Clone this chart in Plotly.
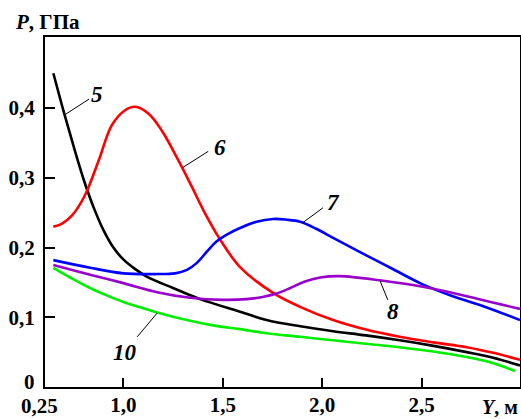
import plotly.graph_objects as go

# curve 5 (black)
x5 = [0.648, 0.70, 0.75, 0.80, 0.85, 0.90, 0.95, 1.0, 1.06, 1.12, 1.25, 1.386, 1.587, 1.72, 1.89, 2.055, 2.22, 2.39, 2.56, 2.727, 2.86, 2.995]
y5 = [0.450, 0.395, 0.345, 0.298, 0.258, 0.225, 0.200, 0.183, 0.169, 0.158, 0.142, 0.126, 0.108, 0.096, 0.087, 0.080, 0.074, 0.067, 0.059, 0.050, 0.042, 0.031]

# curve 6 (red)
x6 = [0.648, 0.69, 0.742, 0.807, 0.876, 0.943, 1.009, 1.059, 1.127, 1.193, 1.277, 1.345, 1.411, 1.479, 1.587, 1.753, 1.889, 2.055, 2.225, 2.39, 2.56, 2.727, 2.86, 2.995]
y6 = [0.230, 0.234, 0.246, 0.275, 0.325, 0.376, 0.397, 0.402, 0.392, 0.368, 0.325, 0.287, 0.249, 0.215, 0.172, 0.135, 0.115, 0.096, 0.082, 0.072, 0.064, 0.057, 0.049, 0.039]

# curve 7 (blue)
x7 = [0.648, 0.833, 1.0, 1.17, 1.26, 1.32, 1.37, 1.42, 1.47, 1.53, 1.587, 1.67, 1.753, 1.82, 1.889, 1.97, 2.055, 2.2, 2.35, 2.5, 2.65, 2.8, 2.995]
y7 = [0.182, 0.171, 0.163, 0.162, 0.163, 0.168, 0.178, 0.194, 0.209, 0.220, 0.228, 0.237, 0.241, 0.240, 0.237, 0.227, 0.214, 0.192, 0.170, 0.148, 0.131, 0.117, 0.096]

# curve 8 (purple)
x8 = [0.648, 0.833, 1.0, 1.17, 1.336, 1.503, 1.62, 1.70, 1.77, 1.84, 1.91, 1.99, 2.09, 2.29, 2.54, 2.79, 2.995]
y8 = [0.175, 0.161, 0.149, 0.136, 0.128, 0.125, 0.126, 0.129, 0.134, 0.142, 0.151, 0.157, 0.159, 0.153, 0.142, 0.126, 0.112]

# curve 10 (green)
x10 = [0.648, 0.74, 0.833, 0.92, 1.0, 1.09, 1.17, 1.336, 1.46, 1.587, 1.72, 1.89, 2.055, 2.22, 2.39, 2.56, 2.727, 2.85, 2.97]
y10 = [0.171, 0.156, 0.142, 0.131, 0.122, 0.114, 0.107, 0.095, 0.088, 0.083, 0.077, 0.072, 0.067, 0.062, 0.057, 0.051, 0.043, 0.035, 0.023]

x_ticks = [1.0, 1.5, 2.0, 2.5]
x_labels = ["1,0", "1,5", "2,0", "2,5"]
y_ticks = [0, 0.1, 0.2, 0.3, 0.4]
y_labels = ["", "0,1", "0,2", "0,3", "0,4"]

# curve name, label position, leader line (from curve to label)
curve_labels = [
    ("5", 0.869, 0.419, (0.703, 0.390), (0.828, 0.413)),
    ("6", 1.487, 0.344, (1.300, 0.315), (1.427, 0.338)),
    ("7", 2.055, 0.264, (1.899, 0.235), (2.004, 0.257)),
    ("8", 2.356, 0.108, (2.290, 0.153), (2.330, 0.125)),
    ("10", 1.009, 0.050, (1.170, 0.106), (1.070, 0.072)),
]

SERIF = "Liberation Serif, DejaVu Serif, Noto Serif, Times New Roman, serif"
FS = 21

fig = go.Figure()
for xs, ys, color in [
    (x5, y5, "#000000"),
    (x6, y6, "#ff0000"),
    (x7, y7, "#0000ff"),
    (x8, y8, "#9900cc"),
    (x10, y10, "#00ee00"),
]:
    fig.add_trace(go.Scatter(
        x=xs, y=ys, mode="lines",
        line=dict(color=color, width=2.6, shape="spline", smoothing=1.0),
        showlegend=False, hoverinfo="skip",
    ))

for name, lx, ly, (x0, y0), (x1, y1) in curve_labels:
    fig.add_shape(type="line", x0=x0, y0=y0, x1=x1, y1=y1,
                  line=dict(color="black", width=1))
    fig.add_annotation(x=lx, y=ly, text=f"<b><i>{name}</i></b>", showarrow=False,
                       font=dict(family=SERIF, size=23, color="black"))

# axis captions and the odd origin labels
fig.add_annotation(xref="paper", yref="paper", x=-0.067, y=1.043, xanchor="left", yanchor="middle",
                   text="<b><i>P</i>, ГПа</b>", showarrow=False,
                   font=dict(family=SERIF, size=FS, color="black"))
fig.add_annotation(xref="paper", yref="paper", x=1.0, y=-0.057, xanchor="right", yanchor="middle",
                   text="<b><i>Y</i>, м</b>", showarrow=False,
                   font=dict(family=SERIF, size=FS - 1, color="black"))
fig.add_annotation(xref="paper", yref="paper", x=-0.011, y=-0.054, xanchor="center", yanchor="middle",
                   text="<b>0,25</b>", showarrow=False,
                   font=dict(family=SERIF, size=FS, color="black"))
fig.add_annotation(xref="paper", yref="paper", x=-0.017, y=0.014, xanchor="right", yanchor="middle",
                   text="<b>0</b>", showarrow=False,
                   font=dict(family=SERIF, size=FS, color="black"))

fig.update_xaxes(
    range=[0.606, 2.995], tickvals=x_ticks, ticktext=x_labels,
    ticks="inside", ticklen=9, tickwidth=1.5, tickcolor="black",
    showline=True, linewidth=2, linecolor="black", mirror=True,
    showgrid=False, zeroline=False, automargin=False, ticklabelstandoff=-2,
    tickfont=dict(family=SERIF, size=FS, color="black", weight="bold"),
)
fig.update_yaxes(
    range=[0, 0.502], tickvals=y_ticks, ticktext=y_labels,
    ticks="inside", ticklen=10, tickwidth=1.5, tickcolor="black",
    showline=True, linewidth=2, linecolor="black", mirror=True,
    showgrid=False, zeroline=False, automargin=False, ticklabelstandoff=4,
    tickfont=dict(family=SERIF, size=FS, color="black", weight="bold"),
)
fig.update_layout(
    width=521, height=419,
    margin=dict(l=45, r=1, t=37, b=32),
    paper_bgcolor="white", plot_bgcolor="white",
)
# the page body has a default 8px margin; drop it so the figure fills the window
fig.write_html("out.html", config={"displayModeBar": False},
               post_script="document.body.style.margin='0';")
